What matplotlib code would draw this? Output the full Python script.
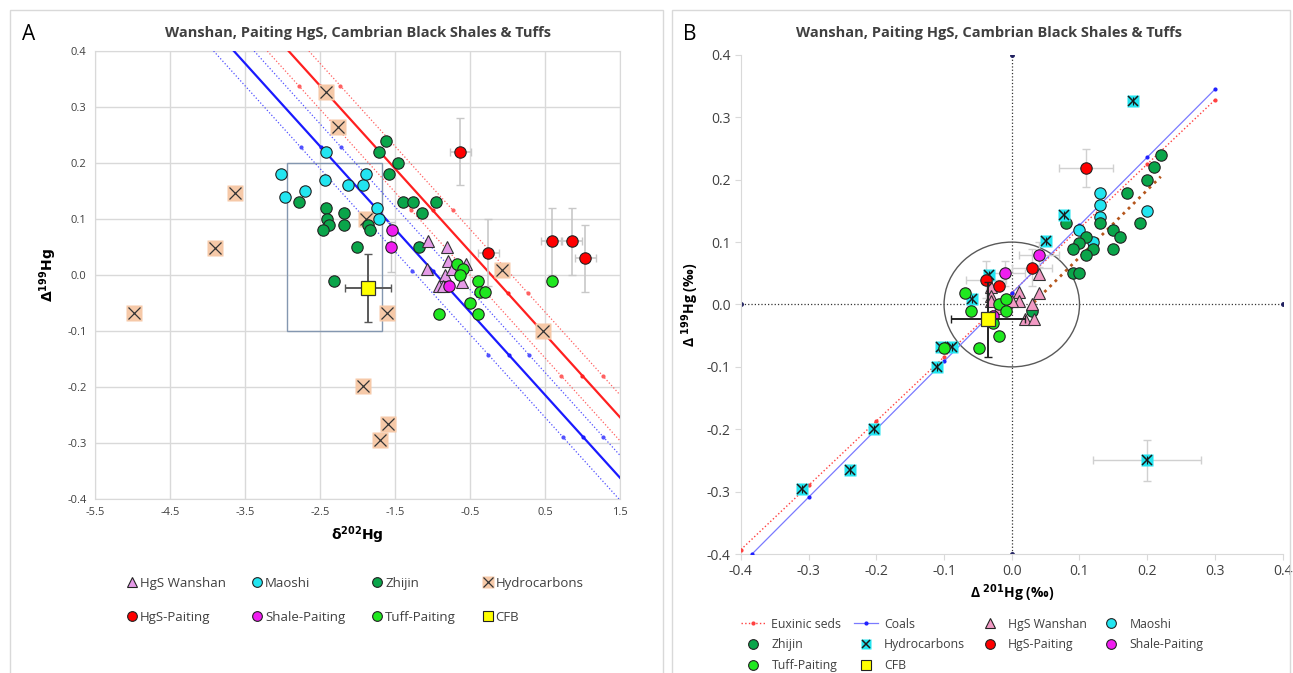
import numpy as np
import matplotlib
matplotlib.use("Agg")
import matplotlib.pyplot as plt
from matplotlib.lines import Line2D
from matplotlib.patches import Rectangle, Ellipse

plt.rcParams['font.family'] = ['Open Sans', 'DejaVu Sans']

# ---------------- panel A data (delta202 vs Delta199) ----------------
wan_a_x = [-1.06, -0.81, -1.07, -0.79, -0.56, -0.83, -0.92, -0.61, -0.86, -0.74]
wan_a_y = [0.06, 0.05, 0.01, 0.025, 0.02, 0.0, -0.02, -0.012, -0.02, 0.01]
mao_a_x = [-2.42, -3.02, -2.97, -2.70, -2.43, -2.13, -1.93, -1.89, -1.74, -1.71]
mao_a_y = [0.22, 0.18, 0.14, 0.15, 0.17, 0.16, 0.16, 0.18, 0.12, 0.10]
zhi_a_x = [-2.78, -2.42, -2.41, -2.38, -2.46, -2.18, -2.18, -2.01, -2.31, -1.62,
           -1.72, -1.46, -1.58, -1.39, -1.26, -0.96, -1.14, -1.86, -1.84, -1.18]
zhi_a_y = [0.13, 0.12, 0.10, 0.09, 0.08, 0.11, 0.09, 0.05, -0.01, 0.24,
           0.22, 0.20, 0.18, 0.13, 0.13, 0.13, 0.11, 0.09, 0.08, 0.05]
hc_a_x = [-4.98, -3.90, -3.63, -2.42, -2.26, -1.89, -1.61, -1.93, -1.59, -1.70, -0.07, 0.47]
hc_a_y = [-0.068, 0.048, 0.146, 0.327, 0.264, 0.10, -0.068, -0.198, -0.266, -0.295, 0.009, -0.10]
hgs_a_x = [-0.63, -0.26, 0.59, 0.86, 1.04]
hgs_a_y = [0.22, 0.04, 0.06, 0.06, 0.03]
sha_a_x = [-1.54, -1.56, -0.78]
sha_a_y = [0.08, 0.05, -0.02]
tuf_a_x = [-0.67, -0.60, -0.64, -0.40, -0.37, -0.30, -0.50, -0.91, -0.40, 0.59]
tuf_a_y = [0.02, 0.01, 0.0, -0.01, -0.03, -0.03, -0.05, -0.07, -0.07, -0.01]
cfb_a_x, cfb_a_y = [-1.86], [-0.023]

# fractionation lines in A: common slope, intercepts at x=0
slope_a = -0.148
red_lines = {'solid': -0.032, 'upper': 0.008, 'lower': -0.074}
blue_lines = {'solid': -0.140, 'upper': -0.100, 'lower': -0.180}
red_mark_y = [0.338, 0.116, -0.032, -0.18]
blue_mark_y = [0.228, 0.008, -0.142, -0.289]
box_a = (-2.94, -0.10, 1.26, 0.30)  # x0, y0, w, h

# ---------------- panel B data (Delta201 vs Delta199) ----------------
wan_b_x = [0.04, 0.04, 0.01, 0.01, 0.0, -0.031, -0.031, -0.031, 0.03, 0.02, 0.033, -0.019]
wan_b_y = [0.049, 0.019, 0.02, 0.006, 0.006, 0.028, 0.014, 0.006, 0.0, -0.023, -0.023, -0.006]
mao_b_x = [0.13, 0.13, 0.13, 0.20, 0.10, 0.12]
mao_b_y = [0.179, 0.159, 0.14, 0.15, 0.12, 0.10]
zhi_b_x = [0.22, 0.21, 0.20, 0.17, 0.19, 0.08, 0.13, 0.15, 0.16, 0.11, 0.10, 0.09,
           0.12, 0.11, 0.15, 0.09, 0.10, 0.03]
zhi_b_y = [0.239, 0.22, 0.199, 0.179, 0.13, 0.13, 0.13, 0.12, 0.109, 0.109, 0.099, 0.089,
           0.089, 0.08, 0.089, 0.05, 0.05, -0.011]
hc_b_x = [0.179, 0.077, 0.051, -0.033, -0.058, -0.104, -0.089, -0.11, -0.204, -0.239, -0.31, 0.20]
hc_b_y = [0.327, 0.144, 0.101, 0.047, 0.009, -0.068, -0.068, -0.10, -0.20, -0.266, -0.295, -0.25]
hgs_b_x = [0.11, 0.03, -0.038, -0.019]
hgs_b_y = [0.219, 0.059, 0.04, 0.029]
hgs_b_xerr = [0.04, 0.03, 0.03, 0.0]
hgs_b_yerr = [0.03, 0.03, 0.03, 0.0]
sha_b_x = [0.04, -0.01, -0.027]
sha_b_y = [0.08, 0.05, -0.019]
tuf_b_x = [-0.069, -0.06, -0.019, -0.009, -0.009, -0.028, -0.019, -0.049, -0.10]
tuf_b_y = [0.019, -0.011, 0.0, 0.009, -0.011, -0.03, -0.051, -0.07, -0.07]
cfb_b_x, cfb_b_y = [-0.035], [-0.024]

eux_x = [-0.4, -0.3, -0.2, -0.1, 0.0, 0.1, 0.2, 0.3]
eux_slope, eux_icpt = 1.03, 0.019
coal_x = [-0.384, -0.3, -0.2, -0.1, 0.0, 0.1, 0.2, 0.3]
coal_slope, coal_icpt = 1.09, 0.018
brown_x = [0.025, 0.22]
brown_y = [-0.005, 0.205]

# colours
c_wan_a, c_wan_b = '#e59be8', '#f29ac4'
c_mao, c_zhi, c_tuf = '#22e5f0', '#0aa54a', '#1fe81f'
c_hgs, c_sha, c_cfb = '#ff0000', '#f01ef0', '#ffff00'
c_peach, c_hcb = '#f6c9a8', '#22e5f0'
ms = 8.2

fig = plt.figure(figsize=(12.93, 6.73), dpi=100)
fig.patches.append(Rectangle((0.008, -0.01), 0.505, 0.995, transform=fig.transFigure,
                             fill=False, edgecolor='#d9d9d9', lw=1))
fig.patches.append(Rectangle((0.520, -0.01), 0.478, 0.995, transform=fig.transFigure,
                             fill=False, edgecolor='#d9d9d9', lw=1))

# ======================= panel A =======================
ax = fig.add_axes([0.0735, 0.2585, 0.406, 0.6657])
ax.set_xlim(-5.5, 1.5)
ax.set_ylim(-0.4, 0.4)
ax.set_xticks(np.arange(-5.5, 1.6, 1.0))
ax.set_yticks(np.arange(-0.4, 0.41, 0.1))
ax.set_xticklabels(['%.1f' % v for v in np.arange(-5.5, 1.6, 1.0)])
ax.set_yticklabels(['%.1f' % v if abs(v) > 1e-9 else '0.0' for v in np.arange(-0.4, 0.41, 0.1)])
ax.grid(True, color='#d9d9d9', lw=1)
ax.set_axisbelow(True)
for s in ax.spines.values():
    s.set_color('#d9d9d9')
ax.tick_params(length=0, labelsize=8, colors='#404040', pad=6)

ax.add_patch(Rectangle((box_a[0], box_a[1]), box_a[2], box_a[3], fill=False,
                       edgecolor='#8497b0', lw=1, zorder=2))

def draw_line(b, color, style, marks):
    x0 = (0.4 - b) / slope_a
    xs = np.array([x0, 1.5])
    ax.plot(xs, b + slope_a * xs, color=color, ls=style,
            lw=1.6 if style == '-' else 0.9, zorder=3)
    mx = [(y - b) / slope_a for y in marks]
    mx = [v for v in mx if x0 <= v <= 1.5]
    ax.plot(mx, [b + slope_a * v for v in mx], ls='none', marker='o', ms=2,
            color=color, zorder=3)

for k, b in red_lines.items():
    draw_line(b, '#ff2020' if k == 'solid' else '#ff6060', '-' if k == 'solid' else ':', red_mark_y)
for k, b in blue_lines.items():
    draw_line(b, '#1a1aff' if k == 'solid' else '#5050ff', '-' if k == 'solid' else ':', blue_mark_y)

ax.plot(hc_a_x, hc_a_y, ls='none', marker='s', ms=11, mfc=c_peach, mec='none', zorder=4)
ax.plot(hc_a_x, hc_a_y, ls='none', marker='x', ms=9, mew=0.9, color='#333333', zorder=4)
ax.plot(zhi_a_x, zhi_a_y, ls='none', marker='o', ms=ms, mfc=c_zhi, mec='#222222', mew=0.8, zorder=5)
ax.plot(mao_a_x, mao_a_y, ls='none', marker='o', ms=ms, mfc=c_mao, mec='#222222', mew=0.8, zorder=5)
ax.plot(wan_a_x, wan_a_y, ls='none', marker='^', ms=ms + 1, mfc=c_wan_a, mec='#333333', mew=0.8, zorder=5)
ax.plot(tuf_a_x, tuf_a_y, ls='none', marker='o', ms=ms, mfc=c_tuf, mec='#222222', mew=0.8, zorder=6)
ax.errorbar(sha_a_x[1], sha_a_y[1] + 0.0, yerr=0.045, fmt='none', ecolor='#c8c8c8', capsize=3, lw=1, zorder=4)
ax.plot(sha_a_x, sha_a_y, ls='none', marker='o', ms=ms, mfc=c_sha, mec='#222222', mew=0.8, zorder=6)
ax.errorbar(hgs_a_x, hgs_a_y, xerr=0.14, yerr=0.06, fmt='none', ecolor='#c8c8c8', capsize=3, lw=1.2, zorder=4)
ax.plot(hgs_a_x, hgs_a_y, ls='none', marker='o', ms=ms, mfc=c_hgs, mec='#222222', mew=0.8, zorder=6)
ax.errorbar(cfb_a_x, cfb_a_y, xerr=0.31, yerr=0.06, fmt='none', ecolor='#595959', capsize=3, lw=1.4, zorder=6)
ax.plot(cfb_a_x, cfb_a_y, ls='none', marker='s', ms=10, mfc=c_cfb, mec='#333333', mew=0.9, zorder=7)

ax.set_xlabel(r'$\mathbf{\delta^{202}Hg}$', fontsize=10, labelpad=4)
ax.set_ylabel(r'$\mathbf{\Delta^{199}Hg}$', fontsize=10, labelpad=6)
fig.text(0.277, 0.951, 'Wanshan, Paiting HgS, Cambrian Black Shales & Tuffs',
         ha='center', va='center', fontsize=10.5, fontweight='bold', color='#404040')
fig.text(0.017, 0.948, 'A', fontsize=15, va='center')

def circ(c, marker='o', size=7):
    return Line2D([], [], ls='none', marker=marker, ms=size, mfc=c, mec='#222222', mew=0.8)

hc_leg_a = (Line2D([], [], ls='none', marker='s', ms=8, mfc=c_peach, mec='none'),
            Line2D([], [], ls='none', marker='x', ms=7, color='#333333', mew=0.9))
hA = [circ(c_wan_a, '^', 7), circ(c_hgs), circ(c_mao), circ(c_sha), circ(c_zhi), circ(c_tuf),
      hc_leg_a, circ(c_cfb, 's', 7)]
lA = ['HgS Wanshan', 'HgS-Paiting', 'Maoshi', 'Shale-Paiting', 'Zhijin', 'Tuff-Paiting',
      'Hydrocarbons', 'CFB']
fig.legend(hA, lA, loc='center', bbox_to_anchor=(0.274, 0.108), ncol=4, frameon=False,
           fontsize=9.5, labelspacing=1.55, columnspacing=1.9, handletextpad=0.1,
           handlelength=1.0, labelcolor='#404040')

# ======================= panel B =======================
bx = fig.add_axes([0.573, 0.1768, 0.419, 0.7415])
bx.set_xlim(-0.4, 0.4)
bx.set_ylim(-0.4, 0.4)
ticks = np.round(np.arange(-0.4, 0.41, 0.1), 1)
bx.set_xticks(ticks)
bx.set_yticks(ticks)
bx.set_xticklabels(['%.1f' % (v + 0.0) for v in ticks])
bx.set_yticklabels(['%.1f' % (v + 0.0) for v in ticks])
bx.spines['top'].set_visible(False)
bx.spines['right'].set_visible(False)
bx.spines['left'].set_color('#d9d9d9')
bx.spines['bottom'].set_color('#d9d9d9')
bx.tick_params(length=4, color='#d9d9d9', labelsize=10, colors='#404040')
for t in bx.xaxis.get_ticklines() + bx.yaxis.get_ticklines():
    t.set_color('#d9d9d9')

bx.plot([0, 0], [-0.4, 0.4], ls=':', color='#333333', lw=0.9, marker='o', ms=2.5,
        mfc='#1f1f5f', mec='#1f1f5f', zorder=2)
bx.plot([-0.4, 0.4], [0, 0], ls=':', color='#333333', lw=0.9, marker='o', ms=2.5,
        mfc='#1f1f5f', mec='#1f1f5f', zorder=2)
bx.add_patch(Ellipse((0, 0), 0.2, 0.2, fill=False, edgecolor='#595959', lw=1, zorder=2))

ex = np.array(eux_x)
bx.plot(ex, eux_slope * ex + eux_icpt, ls=':', color='#ff4040', lw=1, marker='o', ms=2, zorder=3)
cx = np.array(coal_x)
bx.plot(cx, coal_slope * cx + coal_icpt, ls='-', color='#7a7aff', lw=0.9, marker='o', ms=2,
        mfc='#2020ff', mec='#2020ff', zorder=3)
bx.plot(brown_x, brown_y, ls=':', color='#b5561c', lw=2, zorder=3)

bx.errorbar(hc_b_x[-1], hc_b_y[-1], xerr=0.08, yerr=0.033, fmt='none', ecolor='#d0d0d0',
            capsize=3, lw=1, zorder=3)
bx.plot(zhi_b_x, zhi_b_y, ls='none', marker='o', ms=ms, mfc=c_zhi, mec='#222222', mew=0.8, zorder=5)
bx.plot(mao_b_x, mao_b_y, ls='none', marker='o', ms=ms, mfc=c_mao, mec='#222222', mew=0.8, zorder=4)
bx.plot(hc_b_x, hc_b_y, ls='none', marker='s', ms=9, mfc=c_hcb, mec='none', zorder=5)
bx.plot(hc_b_x, hc_b_y, ls='none', marker='x', ms=7, mew=1.1, color='#1a1a1a', zorder=5)
bx.plot(hc_b_x, hc_b_y, ls='none', marker='|', ms=6, mew=0.8, color='#1a1a1a', zorder=5)
bx.errorbar(hgs_b_x, hgs_b_y, xerr=hgs_b_xerr, yerr=hgs_b_yerr, fmt='none', ecolor='#d0d0d0',
            capsize=3, lw=1, zorder=3)
bx.errorbar(sha_b_x[:2], sha_b_y[:2], xerr=0.03, yerr=0.02, fmt='none', ecolor='#d0d0d0',
            capsize=3, lw=1, zorder=3)
bx.plot(wan_b_x, wan_b_y, ls='none', marker='^', ms=ms + 1, mfc=c_wan_b, mec='#333333', mew=0.8, zorder=5)
bx.plot(sha_b_x, sha_b_y, ls='none', marker='o', ms=ms, mfc=c_sha, mec='#222222', mew=0.8, zorder=6)
bx.plot(hgs_b_x, hgs_b_y, ls='none', marker='o', ms=ms, mfc=c_hgs, mec='#222222', mew=0.8, zorder=6)
bx.plot(tuf_b_x, tuf_b_y, ls='none', marker='o', ms=ms, mfc=c_tuf, mec='#222222', mew=0.8, zorder=6)
bx.errorbar(cfb_b_x, cfb_b_y, xerr=0.055, yerr=0.06, fmt='none', ecolor='#222222',
            capsize=3, lw=1.4, zorder=6)
bx.plot(cfb_b_x, cfb_b_y, ls='none', marker='s', ms=10, mfc=c_cfb, mec='#333333', mew=0.9, zorder=7)

bx.set_xlabel('Δ $\\mathbf{^{201}}$Hg (‰)', fontsize=10, fontweight='bold', labelpad=2)
bx.set_ylabel('Δ $\\mathbf{^{199}}$Hg (‰)', fontsize=10, fontweight='bold', labelpad=4)
fig.text(0.765, 0.951, 'Wanshan, Paiting HgS, Cambrian Black Shales & Tuffs',
         ha='center', va='center', fontsize=10.5, fontweight='bold', color='#404040')
fig.text(0.528, 0.948, 'B', fontsize=15, va='center')

hc_leg_b = (Line2D([], [], ls='none', marker='s', ms=7, mfc=c_hcb, mec='none'),
            Line2D([], [], ls='none', marker='x', ms=6, color='#1a1a1a', mew=1.1))
hB = [Line2D([], [], ls=':', color='#ff4040', marker='o', ms=2, lw=1),
      circ(c_zhi), circ(c_tuf),
      Line2D([], [], ls='-', color='#7a7aff', marker='o', ms=2, mfc='#2020ff', mec='#2020ff', lw=0.9),
      hc_leg_b, circ(c_cfb, 's', 7),
      circ(c_wan_b, '^', 7), circ(c_hgs), circ(c_mao), circ(c_sha)]
lB = ['Euxinic seds', 'Zhijin', 'Tuff-Paiting', 'Coals', 'Hydrocarbons', 'CFB',
      'HgS Wanshan', 'HgS-Paiting', 'Maoshi', 'Shale-Paiting']
fig.legend(hB, lB, loc='center', bbox_to_anchor=(0.752, 0.042), ncol=4, frameon=False,
           fontsize=8.8, labelspacing=0.62, columnspacing=1.0, handletextpad=0.5,
           handlelength=2.0, labelcolor='#404040')

fig.savefig('out.png', dpi=100)
